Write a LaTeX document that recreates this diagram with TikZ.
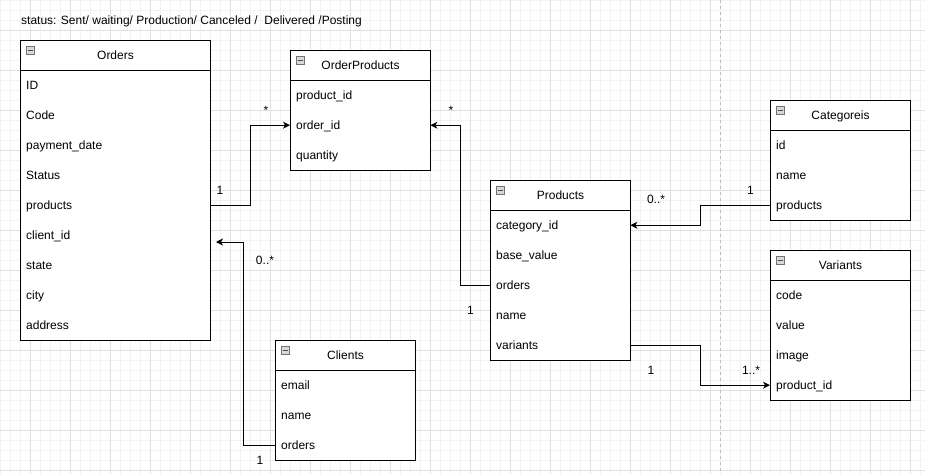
\documentclass[tikz,border=0pt]{standalone}
\usepackage{fontspec}
\setmainfont{Liberation Sans}
\usetikzlibrary{arrows.meta}
\tikzset{
  minorgrid/.style={draw=black!5, line width=1pt},
  majorgrid/.style={draw=black!12, line width=1pt},
  sepline/.style={draw=black!25, line width=1pt, dash pattern=on 3pt off 3pt},
  tbl/.style={draw, line width=1pt, fill=white, anchor=north west, inner sep=0pt},
  hdr/.style={draw, line width=1pt, anchor=north west, inner sep=0pt, minimum height=30pt, text height=10pt, text depth=1.4pt, font=\fontsize{12}{14}\selectfont},
  row/.style={anchor=north west, inner xsep=6pt, inner ysep=0pt, minimum height=30pt, text height=10pt, text depth=1.4pt, align=left, font=\fontsize{12}{14}\selectfont},
  minusbox/.style={draw=black!55, fill=black!15, line width=0.8pt, minimum size=8pt, inner sep=0pt,
    path picture={\draw[line width=1pt, black!70] ([xshift=1.5pt]path picture bounding box.west) -- ([xshift=-1.5pt]path picture bounding box.east);}},
  conn/.style={draw, line width=1pt, -{Stealth[length=7pt,width=7pt,inset=2pt]}},
  lbl/.style={anchor=base, inner sep=0pt, font=\fontsize{12}{14}\selectfont},
}
\begin{document}
\begin{tikzpicture}[x=1pt,y=-1pt]
\useasboundingbox (0,0) rectangle (925,474);
% grid
\foreach \x in {0,10,...,920} \draw[minorgrid] (\x,0) -- (\x,474);
\foreach \y in {0,10,...,470} \draw[minorgrid] (0,\y) -- (925,\y);
\foreach \x in {30,70,...,910} \draw[majorgrid] (\x,0) -- (\x,474);
\foreach \y in {30,70,...,470} \draw[majorgrid] (0,\y) -- (925,\y);
\draw[sepline] (720.5,0) -- (720.5,474);

% title
\node[lbl, anchor=base west] (title) at (21,24) {status: Sent/ waiting/ Production/ Canceled /\ \ Delivered /Posting};

% Orders
\node[tbl, minimum width=190pt, minimum height=300pt] (orders) at (20,40) {};
\node[hdr, minimum width=190pt] (ordersH) at (20,40) {Orders};
\node[minusbox] (ordersM) at (30,50) {};
\foreach \t [count=\i] in {ID,Code,payment\_date,Status,products,client\_id,state,city,address}
  \node[row, text width=178pt] (o\i) at (20,{70+30*(\i-1)}) {\t};

% OrderProducts
\node[tbl, minimum width=140pt, minimum height=120pt] (orderproducts) at (290,50) {};
\node[hdr, minimum width=140pt] (opH) at (290,50) {OrderProducts};
\node[minusbox] (opM) at (300,60) {};
\foreach \t [count=\i] in {product\_id,order\_id,quantity}
  \node[row, text width=128pt] (op\i) at (290,{80+30*(\i-1)}) {\t};

% Products
\node[tbl, minimum width=140pt, minimum height=180pt] (products) at (490,180) {};
\node[hdr, minimum width=140pt] (pH) at (490,180) {Products};
\node[minusbox] (pM) at (500,190) {};
\foreach \t [count=\i] in {category\_id,base\_value,orders,name,variants}
  \node[row, text width=128pt] (p\i) at (490,{210+30*(\i-1)}) {\t};

% Categoreis
\node[tbl, minimum width=140pt, minimum height=120pt] (categoreis) at (770,100) {};
\node[hdr, minimum width=140pt] (cH) at (770,100) {Categoreis};
\node[minusbox] (cM) at (780,110) {};
\foreach \t [count=\i] in {id,name,products}
  \node[row, text width=128pt] (c\i) at (770,{130+30*(\i-1)}) {\t};

% Variants
\node[tbl, minimum width=140pt, minimum height=150pt] (variants) at (770,250) {};
\node[hdr, minimum width=140pt] (vH) at (770,250) {Variants};
\node[minusbox] (vM) at (780,260) {};
\foreach \t [count=\i] in {code,value,image,product\_id}
  \node[row, text width=128pt] (v\i) at (770,{280+30*(\i-1)}) {\t};

% Clients
\node[tbl, minimum width=140pt, minimum height=120pt] (clients) at (275,340) {};
\node[hdr, minimum width=140pt] (clH) at (275,340) {Clients};
\node[minusbox] (clM) at (285,350) {};
\foreach \t [count=\i] in {email,name,orders}
  \node[row, text width=128pt] (cl\i) at (275,{370+30*(\i-1)}) {\t};

% connectors
\coordinate (clientTarget) at (216,242);
\draw[conn] (o5.east) -- ++(40,0) |- (op2.west);
\draw[conn] (p3.west) -- ++(-30,0) |- (op2.east);
\draw[conn] (c3.west) -- ++(-70,0) |- (p1.east);
\draw[conn] (p5.east) -- ++(70,0) |- (v4.west);
\draw[conn] (cl3.west) -- ++(-32,0) |- (clientTarget);

% multiplicity labels
\node[lbl] (l1) at (220,194) {1};
\node[lbl] (l2) at (266,114) {*};
\node[lbl] (l3) at (451,114) {*};
\node[lbl] (l4) at (470.5,314) {1};
\node[lbl] (l5) at (750.5,194) {1};
\node[lbl] (l6) at (656,203) {0..*};
\node[lbl] (l7) at (651,374) {1};
\node[lbl] (l8) at (751,374) {1..*};
\node[lbl] (l9) at (265,264) {0..*};
\node[lbl] (l10) at (260,464) {1};
\end{tikzpicture}
\end{document}
